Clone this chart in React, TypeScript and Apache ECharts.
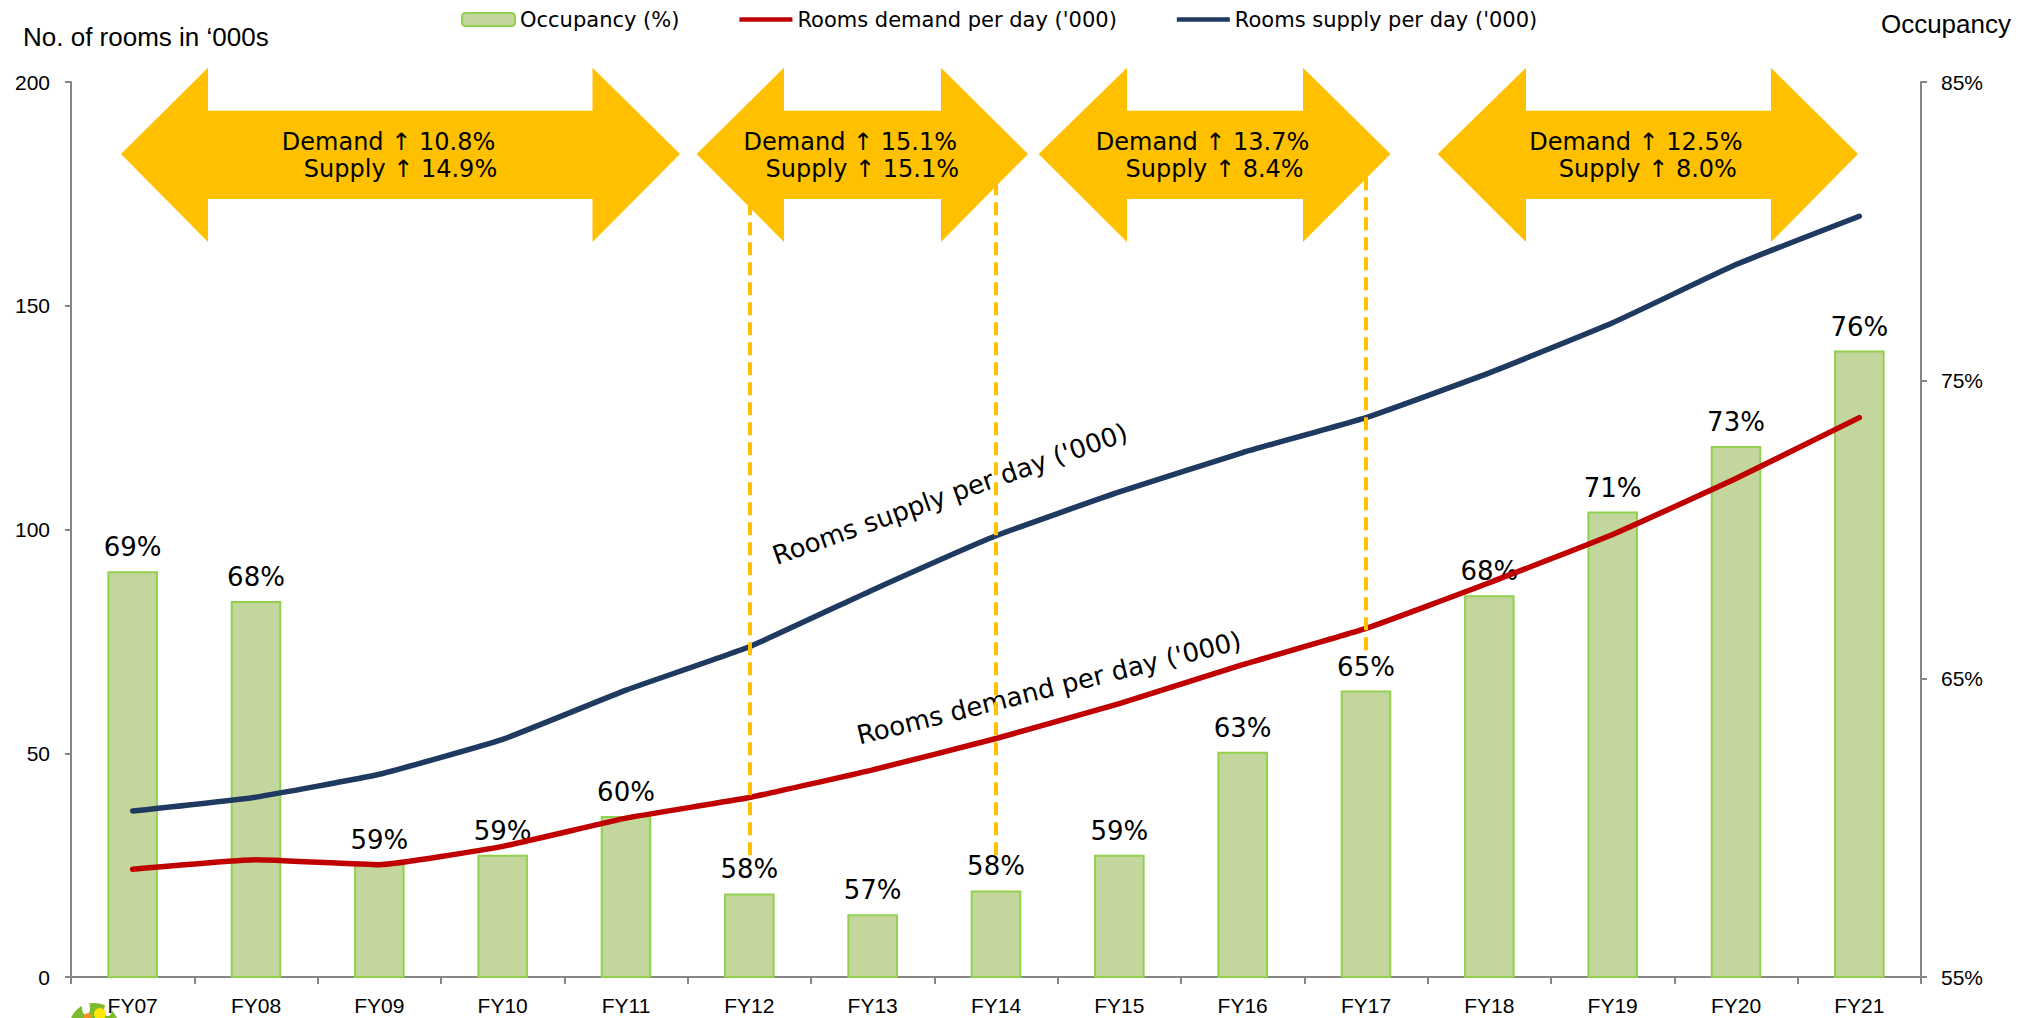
import React, { useEffect, useRef } from "react";
import * as echarts from "echarts";

const categories = ["FY07", "FY08", "FY09", "FY10", "FY11", "FY12", "FY13", "FY14", "FY15", "FY16", "FY17", "FY18", "FY19", "FY20", "FY21"];
const occupancy = [68.6, 67.6, 58.8, 59.1, 60.4, 57.8, 57.1, 57.9, 59.1, 62.55, 64.6, 67.8, 70.6, 72.8, 76.0];
const demand = [24.1, 26.2, 25.1, 29.2, 35.5, 40.1, 46.3, 53.3, 61.1, 69.8, 77.9, 88.1, 98.9, 111.4, 125.0];
const supply = [37.1, 40.2, 45.3, 53.1, 64.1, 73.8, 86.5, 98.6, 108.4, 117.2, 125.0, 135.0, 146.2, 159.2, 170.0];

const seriesNames = ["Occupancy (%)", "Rooms demand per day ('000)", "Rooms supply per day ('000)"];
const arrowTexts = [
  ["Demand \u2191 10.8%", "Supply \u2191 14.9%"],
  ["Demand \u2191 15.1%", "Supply \u2191 15.1%"],
  ["Demand \u2191 13.7%", "Supply \u2191 8.4%"],
  ["Demand \u2191 12.5%", "Supply \u2191 8.0%"],
];
// dashed markers: category, from value, to value (left axis)
const dashedCats = ["FY12", "FY14", "FY17"];
const dashedFrom = [27.2, 27.2, 73];
const dashedTo = [185, 185, 185];

// annotation geometry (pixels)
const arrowX = [
  [121, 208, 592.5, 680],
  [696.6, 784, 941, 1028],
  [1038.6, 1127, 1303, 1390.5],
  [1437.7, 1526, 1771, 1858],
];
const ARROW_Y = [67.7, 110.7, 154, 199, 242];

const SANS = '"DejaVu Sans", Verdana, sans-serif';
const ARIAL = '"Liberation Sans", Arial, sans-serif';
const LINE_ICON = "path://M0,0 L56,0 L56,5 L0,5 Z";

export default function App() {
  const ref = useRef<HTMLDivElement>(null);
  useEffect(() => {
    if (!ref.current) return;
    const chart = echarts.init(ref.current, null, { renderer: "svg" });
    const [yT, yST, yM, ySB, yB] = ARROW_Y;
    const graphics: any[] = [];
    arrowX.forEach((a, i) => {
      const [x1, x2, x3, x4] = a;
      graphics.push({
        type: "polygon",
        z: 20,
        shape: {
          points: [
            [x1, yM], [x2, yT], [x2, yST], [x3, yST], [x3, yT], [x4, yM],
            [x3, yB], [x3, ySB], [x2, ySB], [x2, yB],
          ],
        },
        style: { fill: "#FFC000" },
      });
      const cx = (x1 + x4) / 2;
      graphics.push({
        type: "text", z: 21, x: cx - 12, y: 141.5,
        style: { text: arrowTexts[i][0], fontSize: 24, fontFamily: SANS, fill: "#000", align: "center", verticalAlign: "middle" },
      });
      graphics.push({
        type: "text", z: 21, x: cx, y: 169,
        style: { text: arrowTexts[i][1], fontSize: 24, fontFamily: SANS, fill: "#000", align: "center", verticalAlign: "middle" },
      });
    });
    graphics.push(
      {
        type: "text", x: 23, y: 37,
        style: { text: "No. of rooms in \u2018000s", fontSize: 26, fontFamily: ARIAL, fill: "#000", align: "left", verticalAlign: "middle" },
      },
      {
        type: "text", x: 2011, y: 24,
        style: { text: "Occupancy", fontSize: 26, fontFamily: ARIAL, fill: "#000", align: "right", verticalAlign: "middle" },
      },
      {
        type: "text", x: 950, y: 494, rotation: (19.5 * Math.PI) / 180, z: 3,
        style: { text: "Rooms supply per day ('000)", fontSize: 26, fontFamily: SANS, fill: "#000", align: "center", verticalAlign: "middle" },
      },
      {
        type: "text", x: 1049, y: 688, rotation: (14 * Math.PI) / 180, z: 3,
        style: { text: "Rooms demand per day ('000)", fontSize: 26, fontFamily: SANS, fill: "#000", align: "center", verticalAlign: "middle" },
      },
      // partial logo at bottom-left
      { type: "circle", z: 0, shape: { cx: 94, cy: 1028, r: 25 }, style: { fill: "#7DBA2F" } },
      { type: "ellipse", z: 0, shape: { cx: 86, cy: 1008, rx: 4, ry: 7 }, style: { fill: "#fff" } },
      { type: "ellipse", z: 0, shape: { cx: 108, cy: 1010, rx: 4, ry: 6 }, style: { fill: "#fff" } },
      { type: "circle", z: 0, shape: { cx: 100, cy: 1014, r: 6 }, style: { fill: "#FFE600" } },
      { type: "circle", z: 0, shape: { cx: 88, cy: 1017, r: 4 }, style: { fill: "#F7941D" } }
    );

    const markData = dashedCats.map((c, i) => [
      { coord: [c, dashedFrom[i]] },
      { coord: [c, dashedTo[i]] },
    ]);

    chart.setOption({
      animation: false,
      backgroundColor: "#ffffff",
      grid: { left: 71, right: 107, top: 82, bottom: 41, containLabel: false },
      legend: {
        left: 456,
        top: 4,
        itemWidth: 53,
        itemHeight: 13,
        itemGap: 60,
        textStyle: { fontSize: 21, fontFamily: SANS, color: "#000" },
        data: [
          { name: seriesNames[0] },
          { name: seriesNames[1], icon: LINE_ICON, itemStyle: { color: "#C00000", borderWidth: 0 } },
          { name: seriesNames[2], icon: LINE_ICON, itemStyle: { color: "#1F3A60", borderWidth: 0 } },
        ],
      },
      xAxis: {
        type: "category",
        data: categories,
        boundaryGap: true,
        axisLine: { show: true, lineStyle: { color: "#868686", width: 2 } },
        axisTick: { show: true, length: 7, alignWithLabel: false, lineStyle: { color: "#868686", width: 2 } },
        axisLabel: { fontSize: 21, fontFamily: ARIAL, color: "#000", margin: 18 },
      },
      yAxis: [
        {
          type: "value",
          min: 0,
          max: 200,
          interval: 50,
          splitLine: { show: false },
          axisLine: { show: true, lineStyle: { color: "#868686", width: 2 } },
          axisTick: { show: true, length: 6, lineStyle: { color: "#868686", width: 2 } },
          axisLabel: { fontSize: 21, fontFamily: ARIAL, color: "#000", margin: 21 },
        },
        {
          type: "value",
          min: 55,
          max: 85,
          interval: 10,
          position: "right",
          splitLine: { show: false },
          axisLine: { show: true, lineStyle: { color: "#868686", width: 2 } },
          axisTick: { show: true, length: 6, lineStyle: { color: "#868686", width: 2 } },
          axisLabel: { fontSize: 21, fontFamily: ARIAL, color: "#000", margin: 20, formatter: (v: number) => `${v}%` },
        },
      ],
      series: [
        {
          name: seriesNames[0],
          type: "bar",
          yAxisIndex: 1,
          data: occupancy,
          barWidth: "41%",
          itemStyle: { color: "#C3D69B", borderColor: "#92D050", borderWidth: 2 },
          label: {
            show: true,
            position: "top",
            distance: 11,
            fontSize: 26,
            fontFamily: SANS,
            color: "#000",
            formatter: (p: any) => `${Math.round(p.value)}%`,
          },
          z: 1,
        },
        {
          name: seriesNames[1],
          type: "line",
          yAxisIndex: 0,
          data: demand,
          symbol: "none",
          smooth: 0.12,
          lineStyle: { color: "#C00000", width: 5.5, cap: "round" },
          itemStyle: { color: "#C00000" },
          z: 2,
        },
        {
          name: seriesNames[2],
          type: "line",
          yAxisIndex: 0,
          data: supply,
          symbol: "none",
          smooth: 0.12,
          lineStyle: { color: "#1F3A60", width: 5.5, cap: "round" },
          itemStyle: { color: "#1F3A60" },
          z: 2,
          markLine: {
            silent: true,
            symbol: ["none", "none"],
            label: { show: false },
            z: 5,
            lineStyle: { color: "#FFC000", width: 4, type: [13, 7] },
            data: markData,
          },
        },
      ],
      graphic: graphics,
    });
    return () => chart.dispose();
  }, []);
  return (
    <div
      ref={ref}
      style={{ position: "fixed", left: 0, top: 0, width: 2028, height: 1018, background: "#fff" }}
    />
  );
}
